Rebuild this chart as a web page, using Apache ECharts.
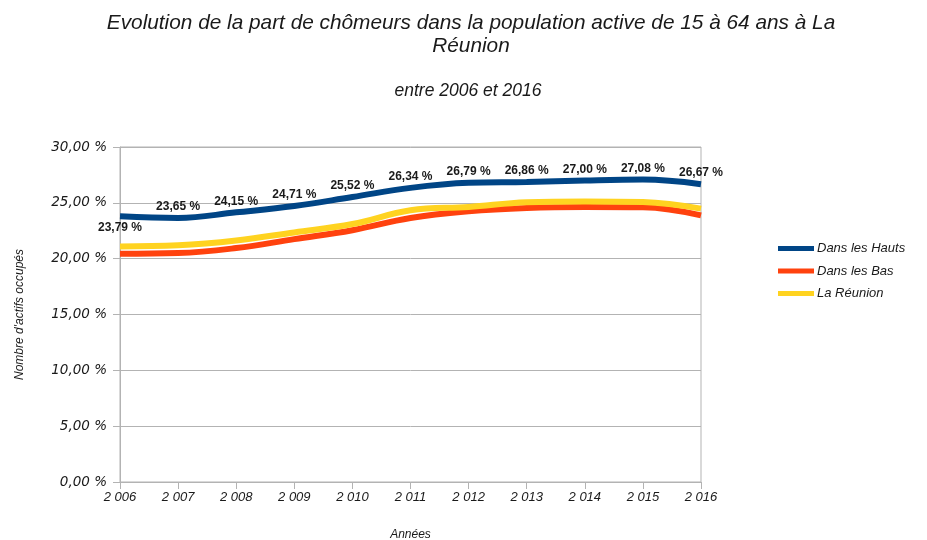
<!DOCTYPE html>
<html>
<head>
<meta charset="utf-8">
<script src="https://cdn.jsdelivr.net/npm/echarts@6/dist/echarts.min.js"></script>
<style>
  html, body { margin: 0; padding: 0; background: #ffffff; }
  #chart { width: 927px; height: 540px; }
</style>
</head>
<body>
<div id="chart"></div>
<script>
// Years on the horizontal axis
const years = ['2 006', '2 007', '2 008', '2 009', '2 010', '2 011', '2 012', '2 013', '2 014', '2 015', '2 016'];

// Share of unemployed in the active population (%)
const dansLesHauts = [23.79, 23.65, 24.15, 24.71, 25.52, 26.34, 26.79, 26.86, 27.00, 27.08, 26.67];
const dansLesBas   = [20.44, 20.50, 20.95, 21.75, 22.55, 23.64, 24.24, 24.54, 24.63, 24.60, 23.88];
const laReunion    = [21.10, 21.20, 21.63, 22.35, 23.10, 24.33, 24.63, 25.05, 25.13, 25.08, 24.48];

const seriesNames = ['Dans les Hauts', 'Dans les Bas', 'La Réunion'];
const seriesColors = ['#004586', '#ff420e', '#ffd320'];

const fmtPct = v => v.toFixed(2).replace('.', ',') + ' %';
const textColor = '#1a1a1a';
const gridColor = '#b3b3b3';

const chart = echarts.init(document.getElementById('chart'));

function lineSeries(name, values, color, withLabels) {
  return {
    name: name,
    type: 'line',
    data: values.map((v, i) => {
      const item = { value: v };
      if (withLabels) {
        item.label = { show: true, position: i === 0 ? 'bottom' : 'top', distance: 5 };
      }
      return item;
    }),
    smooth: 0.4,
    symbol: 'circle',
    symbolSize: 0,
    showSymbol: true,
    lineStyle: { width: 6, color: color },
    itemStyle: { color: color },
    label: {
      show: false,
      formatter: p => fmtPct(p.value),
      fontFamily: 'Liberation Sans',
      fontWeight: 'bold',
      fontSize: 12,
      color: textColor
    },
    emphasis: { disabled: true },
    animation: false
  };
}

chart.setOption({
  animation: false,
  title: [
    {
      text: 'Evolution de la part de chômeurs dans la population active de 15 à 64 ans à La\nRéunion',
      left: 466, top: 7, textAlign: 'center',
      textStyle: { fontFamily: 'Liberation Sans', fontStyle: 'italic', fontWeight: 'normal', fontSize: 20.8, color: textColor, lineHeight: 23 }
    },
    {
      text: 'entre 2006 et 2016',
      left: 463, top: 77, textAlign: 'center',
      textStyle: { fontFamily: 'Liberation Sans', fontStyle: 'italic', fontWeight: 'normal', fontSize: 17.5, color: textColor }
    }
  ],
  legend: {
    orient: 'vertical',
    left: 773, top: 237,
    itemWidth: 36, itemHeight: 5, itemGap: 9.5,
    icon: 'rect',
    data: seriesNames,
    textStyle: { fontFamily: 'Liberation Sans', fontStyle: 'italic', fontSize: 13, color: textColor, padding: [0, 0, 0, -2] }
  },
  grid: {
    left: 120, right: 226, top: 147, bottom: 58,
    outerBoundsMode: 'none',
    containLabel: false,
    show: true, borderColor: gridColor, borderWidth: 1, backgroundColor: 'transparent'
  },
  xAxis: {
    type: 'category',
    data: years,
    boundaryGap: false,
    name: 'Années',
    nameLocation: 'middle',
    nameGap: 47,
    nameTextStyle: { fontFamily: 'Liberation Sans', fontStyle: 'italic', fontSize: 12, color: textColor },
    axisLine: { lineStyle: { color: gridColor } },
    axisTick: { show: true, length: 7, lineStyle: { color: gridColor }, alignWithLabel: true },
    axisLabel: { margin: 9, fontFamily: 'Liberation Sans', fontStyle: 'italic', fontSize: 13, color: textColor, interval: 0 },
    splitLine: { show: false }
  },
  yAxis: {
    type: 'value',
    min: 0, max: 30, interval: 5,
    name: "Nombre d'actifs occupés",
    nameLocation: 'middle',
    nameGap: 94,
    nameRotate: 90,
    nameTextStyle: { fontFamily: 'Liberation Sans', fontStyle: 'italic', fontSize: 12, color: textColor },
    axisLine: { show: true, lineStyle: { color: gridColor } },
    axisTick: { show: true, length: 7, lineStyle: { color: gridColor } },
    axisLabel: { margin: 13, formatter: v => fmtPct(v), fontFamily: 'DejaVu Sans', fontStyle: 'italic', fontSize: 13.5, color: textColor },
    splitLine: { show: true, lineStyle: { color: gridColor, width: 1 } }
  },
  series: [
    lineSeries(seriesNames[0], dansLesHauts, seriesColors[0], true),
    lineSeries(seriesNames[1], dansLesBas, seriesColors[1], false),
    lineSeries(seriesNames[2], laReunion, seriesColors[2], false)
  ]
});
</script>
</body>
</html>
